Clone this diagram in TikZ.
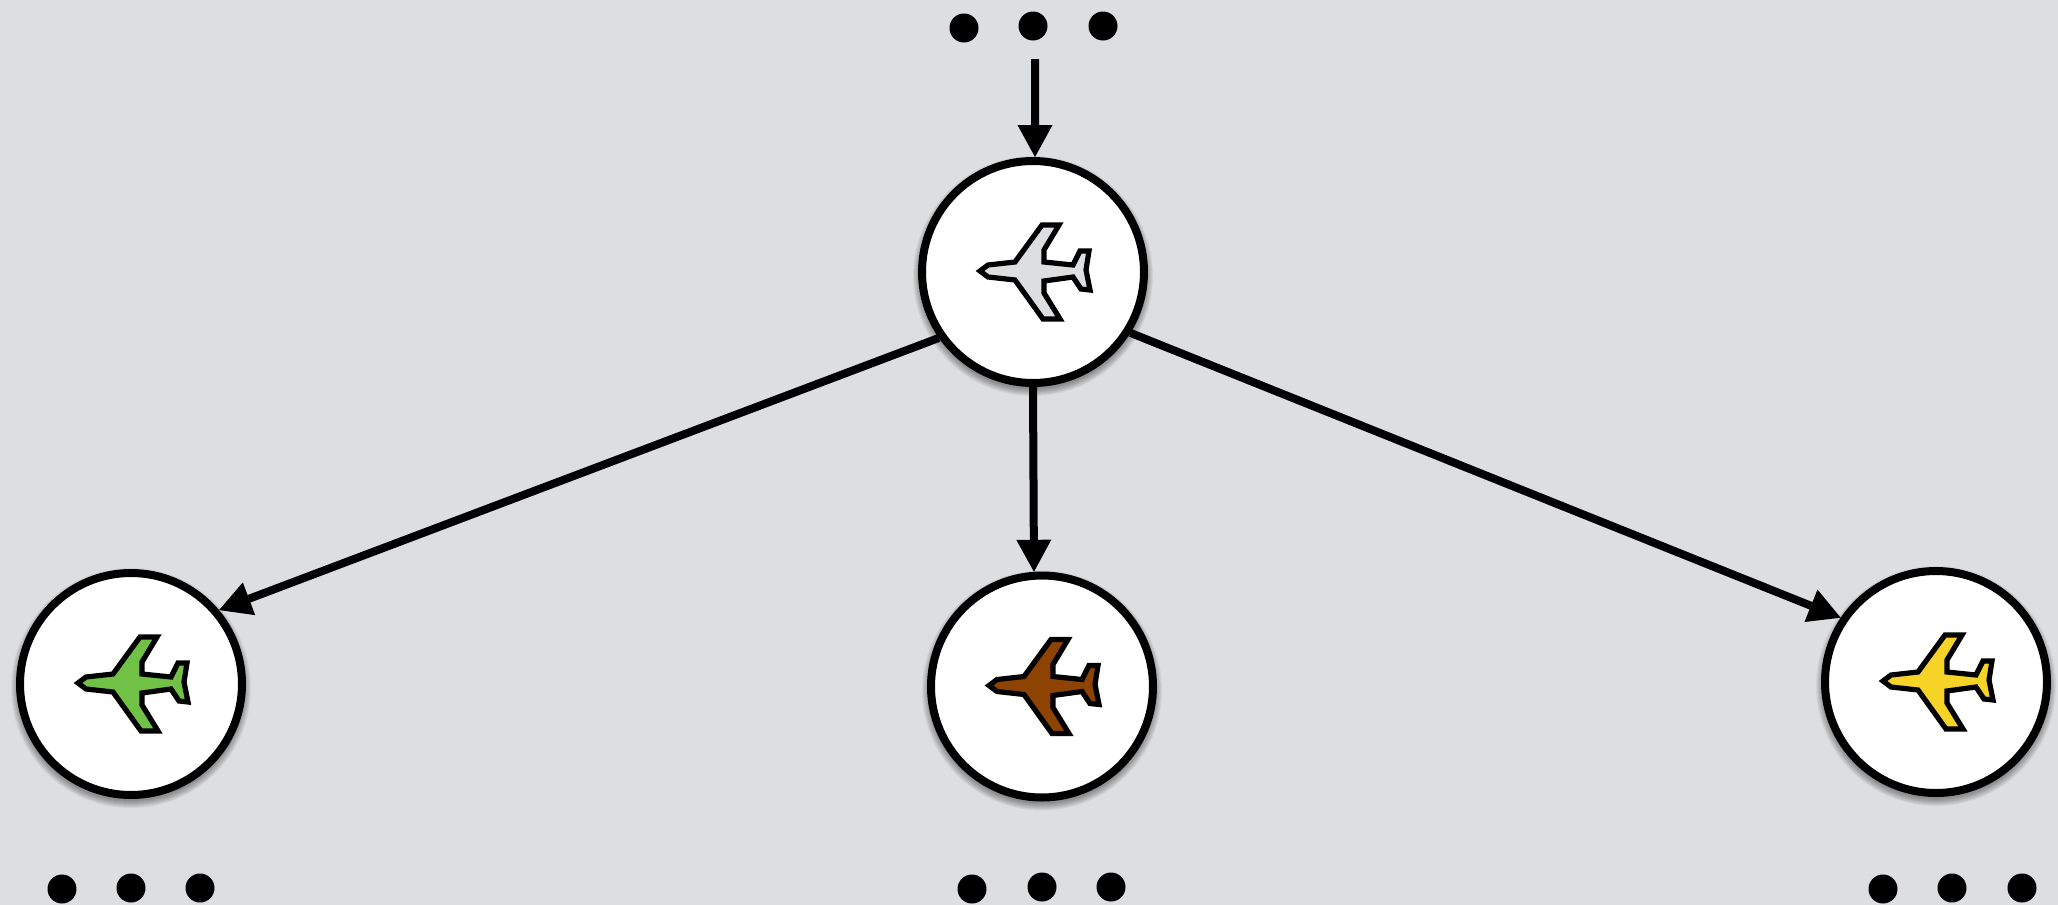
\documentclass[tikz,border=0pt]{standalone}
\usetikzlibrary{arrows.meta}

\definecolor{panelgray}{RGB}{221,222,224}
\definecolor{planegreen}{RGB}{112,193,69}
\definecolor{planebrown}{RGB}{143,67,3}
\definecolor{planeyellow}{RGB}{245,211,39}

\tikzset{
  station/.style={circle,draw=black,fill=white,line width=4pt,minimum size=111pt,inner sep=0pt},
  blackdot/.style={circle,fill=black,minimum size=14.5pt,inner sep=0pt},
  link/.style={line width=4pt,-{Triangle[length=16pt,width=17.5pt,line width=0pt]}},
  pics/plane/.style={code={
    \draw[fill=#1,line width=2.6pt,miter limit=4]
      (-53,-1) -- (-45,-7) -- (-18,-10) -- (9,-47) -- (26,-47) -- (11,-22) -- (11,-10)
      -- (40,-7) -- (47,-21) -- (56,-21) -- (53,-2) -- (57,18) -- (48,17) -- (40,5)
      -- (11,9) -- (11,21) -- (27,47) -- (10,47) -- (-18,8) -- (-45,5) -- cycle;
  }}
}

\begin{document}
\begin{tikzpicture}[x=0.5pt,y=-0.5pt]
  \fill[panelgray] (0,0) rectangle (2058,905);
  \useasboundingbox (0,0) rectangle (2058,905);

  % soft shadow under each circle
  \foreach \cx/\cy in {1033/272,131/684,1042/686.5,1936/682} {
    \foreach \r in {56.5,57,57.5,58,58.5,59,59.5,60} {
      \fill[black,opacity=0.05] (\cx,\cy+4) circle [radius=\r pt];
    }
  }

  \node[station] (top) at (1033,272) {};
  \node[station] (left) at (131,684) {};
  \node[station] (mid) at (1042,686.5) {};
  \node[station] (right) at (1936,682) {};

  \pic at (top) {plane=panelgray};
  \pic at (left) {plane=planegreen};
  \pic at (mid) {plane=planebrown};
  \pic at (right) {plane=planeyellow};

  \coordinate (feed) at (1035,59);
  \draw[link] (feed) -- (top.89);
  \draw[link] (top.215) -- (left.40);
  \draw[link] (top.south) -- (mid.94.3);
  \draw[link] (top.328) -- (right.146);

  % dots
  \node[blackdot] (d1) at (964,28) {};
  \node[blackdot] (d2) at (1033,26) {};
  \node[blackdot] (d3) at (1103,26) {};
  \node[blackdot] (d4) at (62,889) {};
  \node[blackdot] (d5) at (131,888) {};
  \node[blackdot] (d6) at (200,888) {};
  \node[blackdot] (d7) at (972,889) {};
  \node[blackdot] (d8) at (1042,887) {};
  \node[blackdot] (d9) at (1111,887) {};
  \node[blackdot] (d10) at (1883,889) {};
  \node[blackdot] (d11) at (1952,888) {};
  \node[blackdot] (d12) at (2022,888) {};
\end{tikzpicture}
\end{document}
